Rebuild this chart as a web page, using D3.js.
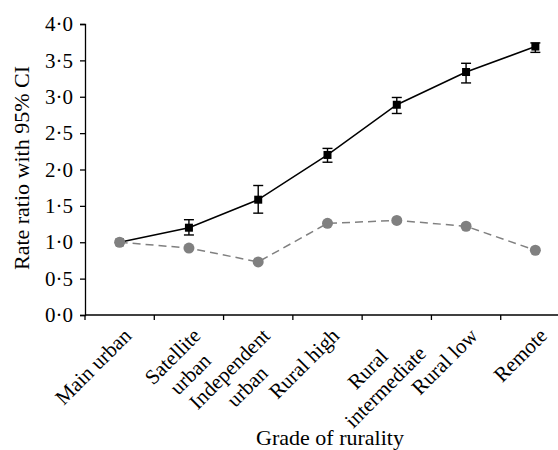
<!DOCTYPE html>
<html>
<head>
<meta charset="utf-8">
<script src="https://cdn.jsdelivr.net/npm/d3@7"></script>
<style>
  body { margin: 0; background: #fff; }
  svg { display: block; }
  text { font-family: "Liberation Serif", "Times New Roman", serif; fill: #000; }
</style>
</head>
<body>
<svg id="chart"></svg>
<script>
// categories and values
const categories = [
  ["Main urban"],
  ["Satellite", "urban"],
  ["Independent", "urban"],
  ["Rural high"],
  ["Rural", "intermediate"],
  ["Rural low"],
  ["Remote"]
];
const blackValues = [1.0, 1.2, 1.585, 2.2, 2.89, 3.34, 3.69];
const blackLower = [1.0, 1.10, 1.40, 2.10, 2.77, 3.19, 3.61];
const blackUpper = [1.0, 1.31, 1.78, 2.29, 2.99, 3.46, 3.74];
const greyValues = [1.0, 0.92, 0.73, 1.26, 1.30, 1.22, 0.89];
const yTicks = [0, 0.5, 1, 1.5, 2, 2.5, 3, 3.5, 4];

const w = 558;
const h = 450;

const svg = d3.select("#chart")
    .attr("width", w)
    .attr("height", h);

const idx = d3.range(categories.length);

const xScale = d3.scaleBand()
    .domain(idx)
    .range([85, 570]);

const yScale = d3.scaleLinear()
    .domain([0, 4])
    .range([315, 24]);

const cx = i => xScale(i) + xScale.bandwidth() / 2;
const fmt = v => d3.format(".1f")(v).replace(".", "\u00b7");

// y axis
const yAxis = d3.axisLeft(yScale)
    .tickValues(yTicks)
    .tickSize(5)
    .tickFormat(fmt);

const gy = svg.append("g")
    .attr("transform", "translate(85,0)")
    .call(yAxis);
gy.select(".domain").attr("stroke", "#000").attr("stroke-width", 1.3);
gy.selectAll(".tick line").attr("stroke", "#000").attr("stroke-width", 1.3);
gy.selectAll(".tick text")
    .attr("x", -12)
    .style("font-size", "21px")
    .style("font-family", "Liberation Serif, serif");

// x axis (ticks between categories)
const gx = svg.append("g")
    .attr("transform", "translate(0,315)");
gx.append("line")
    .attr("x1", 85).attr("x2", 570)
    .attr("stroke", "#000").attr("stroke-width", 1.3);
gx.selectAll("line.tick")
    .data(d3.range(categories.length + 1))
    .enter()
    .append("line")
    .attr("class", "tick")
    .attr("x1", i => 85 + i * xScale.step())
    .attr("x2", i => 85 + i * xScale.step())
    .attr("y1", 0).attr("y2", 5)
    .attr("stroke", "#000").attr("stroke-width", 1.3);

// rotated category labels, lines centred within the block
const labels = gx.selectAll("g.lab")
    .data(categories)
    .enter()
    .append("g")
    .attr("class", "lab")
    .attr("transform", (d, i) => `translate(${cx(i) + 13},22) rotate(-45)`);

labels.each(function (lines) {
    const g = d3.select(this);
    const t = g.selectAll("text")
        .data(lines)
        .enter()
        .append("text")
        .style("font-size", "21px")
        .attr("y", (d, j) => j * 25)
        .text(d => d);
    let maxW = 0;
    t.each(function () { maxW = Math.max(maxW, this.getComputedTextLength()); });
    t.attr("text-anchor", "middle").attr("x", -maxW / 2);
});

// grey series
svg.append("path")
    .datum(greyValues)
    .attr("fill", "none")
    .attr("stroke", "#808080")
    .attr("stroke-width", 1.5)
    .attr("stroke-dasharray", "8,5")
    .attr("d", d3.line().x((d, i) => cx(i)).y(d => yScale(d)));

// black series line
svg.append("path")
    .datum(blackValues)
    .attr("fill", "none")
    .attr("stroke", "#000")
    .attr("stroke-width", 1.5)
    .attr("d", d3.line().x((d, i) => cx(i)).y(d => yScale(d)));

// error bars
const eb = svg.append("g").attr("stroke", "#000").attr("stroke-width", 1.4);
idx.slice(1).forEach(i => {
    eb.append("line")
        .attr("x1", cx(i)).attr("x2", cx(i))
        .attr("y1", yScale(blackLower[i])).attr("y2", yScale(blackUpper[i]));
    [blackLower[i], blackUpper[i]].forEach(v => {
        eb.append("line")
            .attr("x1", cx(i) - 5).attr("x2", cx(i) + 5)
            .attr("y1", yScale(v)).attr("y2", yScale(v));
    });
});

// black squares
svg.selectAll("rect.sq")
    .data(blackValues)
    .enter()
    .append("rect")
    .attr("class", "sq")
    .attr("x", (d, i) => cx(i) - 4)
    .attr("y", d => yScale(d) - 4)
    .attr("width", 8)
    .attr("height", 8)
    .attr("fill", "#000");

// grey circles
svg.selectAll("circle.pt")
    .data(greyValues)
    .enter()
    .append("circle")
    .attr("class", "pt")
    .attr("cx", (d, i) => cx(i))
    .attr("cy", d => yScale(d))
    .attr("r", 5.5)
    .attr("fill", "#808080");

// axis titles
svg.append("text")
    .attr("transform", "rotate(-90)")
    .attr("x", -168)
    .attr("y", 29)
    .attr("text-anchor", "middle")
    .style("font-size", "22px")
    .text("Rate ratio with 95% CI");

svg.append("text")
    .attr("x", 330)
    .attr("y", 445)
    .attr("text-anchor", "middle")
    .style("font-size", "22px")
    .text("Grade of rurality");
</script>
</body>
</html>
